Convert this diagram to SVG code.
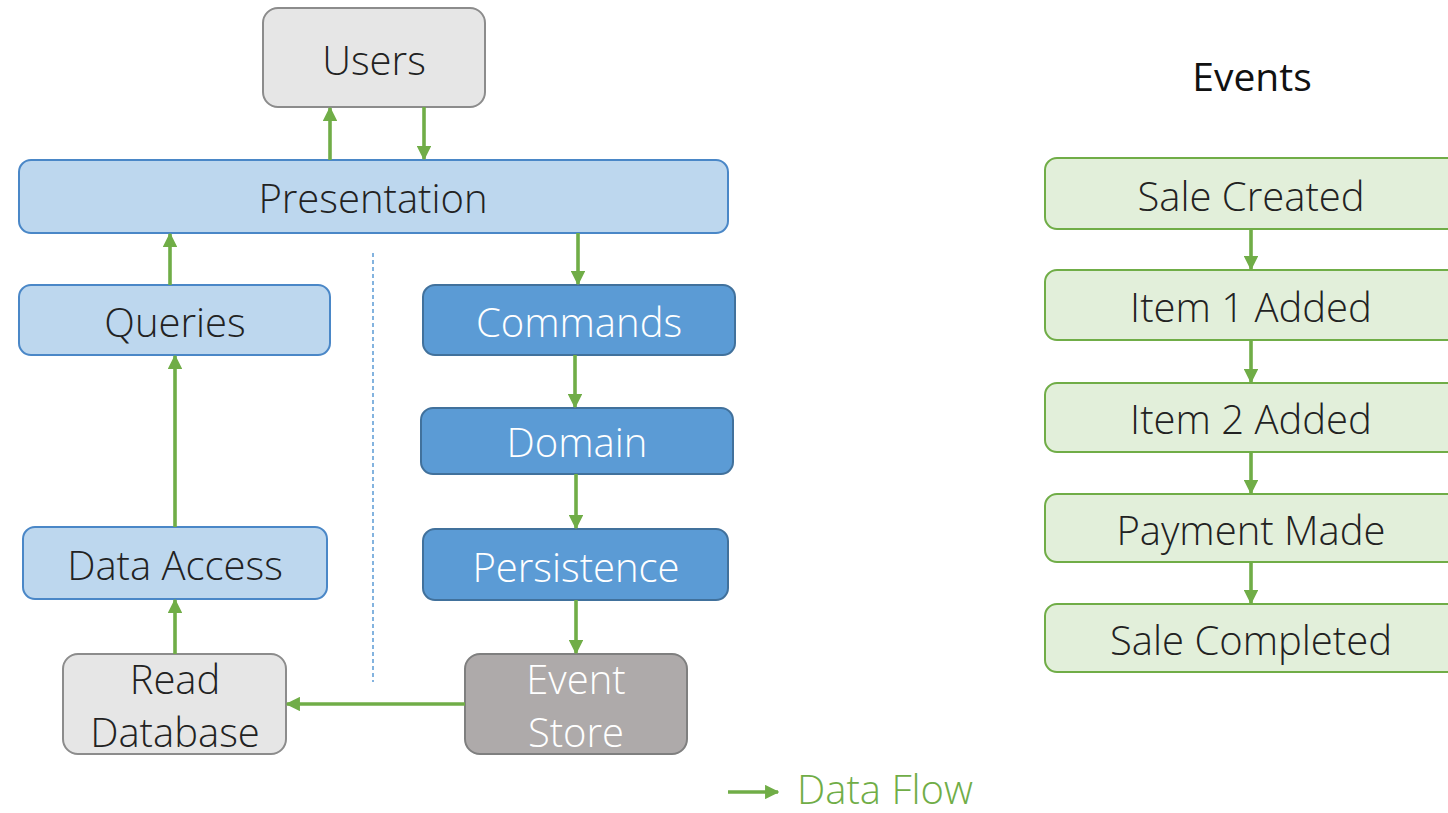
<svg xmlns="http://www.w3.org/2000/svg" width="1448" height="813" viewBox="0 0 1448 813">
<defs>
<marker id="ah" markerWidth="4" markerHeight="4" refX="3.6" refY="2" orient="auto" markerUnits="strokeWidth">
<path d="M0,0 L4,2 L0,4 z" fill="#70ad47"/>
</marker>
<style>
text{font-family:"Open Sans","Liberation Sans",sans-serif;font-weight:300;text-anchor:middle;dominant-baseline:central}
.gray rect{fill:#e6e6e6;stroke:#8c8c8c;stroke-width:2}
.light rect{fill:#bdd7ee;stroke:#4a87c7;stroke-width:2}
.dark rect{fill:#5b9bd5;stroke:#41719c;stroke-width:2}
.store rect{fill:#aeaaaa;stroke:#7f7f7f;stroke-width:2}
.ev rect{fill:#e2efda;stroke:#70ad47;stroke-width:2}
.t{font-size:40px;fill:#222}
.w{font-size:40px;fill:#fff}
.conn line{stroke:#70ad47;stroke-width:3.6;marker-end:url(#ah)}
</style>
</defs>
<rect width="1448" height="813" fill="#fff"/>

<g id="users" class="gray"><rect x="263" y="8" width="222" height="99" rx="15"/><text class="t" x="374" y="59">Users</text></g>
<g id="presentation" class="light"><rect x="19" y="160" width="709" height="73" rx="12"/><text class="t" x="373" y="197">Presentation</text></g>
<g id="queries" class="light"><rect x="19" y="285" width="311" height="70" rx="12"/><text class="t" x="175" y="321">Queries</text></g>
<g id="dataaccess" class="light"><rect x="23" y="527" width="304" height="72" rx="12"/><text class="t" x="175" y="564">Data Access</text></g>
<g id="readdb" class="gray"><rect x="63" y="654" width="223" height="100" rx="15"/><text class="t" x="175" y="678">Read</text><text class="t" x="175" y="731">Database</text></g>
<g id="commands" class="dark"><rect x="423" y="285" width="312" height="70" rx="12"/><text class="w" x="579" y="321">Commands</text></g>
<g id="domain" class="dark"><rect x="421" y="408" width="312" height="66" rx="12"/><text class="w" x="577" y="441">Domain</text></g>
<g id="persistence" class="dark"><rect x="423" y="529" width="305" height="71" rx="12"/><text class="w" x="576" y="566">Persistence</text></g>
<g id="eventstore" class="store"><rect x="465" y="654" width="222" height="100" rx="15"/><text class="w" x="576" y="678">Event</text><text class="w" x="576" y="731">Store</text></g>

<line id="divider" x1="373" y1="253" x2="373" y2="682" stroke="#5b9bd5" stroke-width="1.5" stroke-dasharray="4,3"/>

<text x="1252" y="75" style="font-size:39px;font-weight:400;fill:#111">Events</text>
<g id="ev1" class="ev"><rect x="1045" y="158" width="420" height="71" rx="12"/><text class="t" x="1251" y="195">Sale Created</text></g>
<g id="ev2" class="ev"><rect x="1045" y="270" width="420" height="70" rx="12"/><text class="t" x="1251" y="306">Item 1 Added</text></g>
<g id="ev3" class="ev"><rect x="1045" y="383" width="420" height="69" rx="12"/><text class="t" x="1251" y="418">Item 2 Added</text></g>
<g id="ev4" class="ev"><rect x="1045" y="494" width="420" height="68" rx="12"/><text class="t" x="1251" y="529">Payment Made</text></g>
<g id="ev5" class="ev"><rect x="1045" y="604" width="420" height="68" rx="12"/><text class="t" x="1251" y="639">Sale Completed</text></g>

<g id="connectors" class="conn">
<line x1="330" y1="160" x2="330" y2="108"/>
<line x1="424" y1="107" x2="424" y2="159"/>
<line x1="170" y1="285" x2="170" y2="234"/>
<line x1="175" y1="527" x2="175" y2="356"/>
<line x1="175" y1="654" x2="175" y2="600"/>
<line x1="578" y1="233" x2="578" y2="284"/>
<line x1="575" y1="355" x2="575" y2="407"/>
<line x1="576" y1="474" x2="576" y2="528"/>
<line x1="576" y1="600" x2="576" y2="653"/>
<line x1="465" y1="704" x2="287" y2="704"/>
<line x1="1251" y1="229" x2="1251" y2="269"/>
<line x1="1251" y1="340" x2="1251" y2="382"/>
<line x1="1251" y1="452" x2="1251" y2="493"/>
<line x1="1251" y1="562" x2="1251" y2="603"/>
<line x1="728" y1="792" x2="778" y2="792"/>
</g>
<text x="797" y="788" style="font-size:40px;fill:#70ad47;text-anchor:start">Data Flow</text>
</svg>
